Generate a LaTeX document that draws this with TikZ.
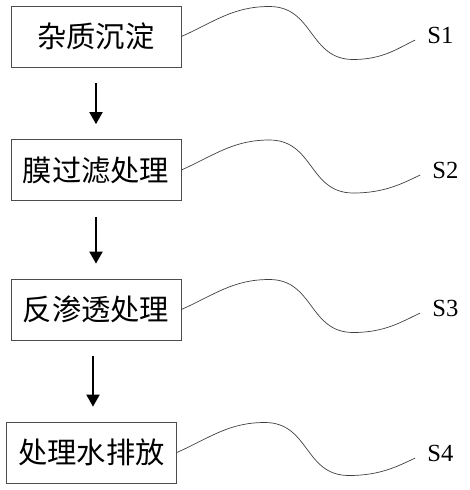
\documentclass[tikz,border=0pt]{standalone}
\usepackage{fontspec}
\setmainfont{Liberation Serif}
\newfontfamily\cjk{Noto Sans CJK SC}
\usetikzlibrary{arrows.meta,calc}

\begin{document}
\begin{tikzpicture}[x=0.03cm, y=-0.03cm,
    stage/.style={draw=black!70, line width=0.6pt, minimum width=5.1cm, minimum height=1.83cm, inner sep=0pt, font=\cjk\fontsize{25}{29}\selectfont},
    tag/.style={anchor=west, inner sep=1pt, font=\fontsize{21}{24}\selectfont},
    wave/.style={draw=black!75, line width=0.6pt, shorten >=0.36cm},
    arrow/.style={-{Triangle[length=3.6mm, width=3.9mm]}, line width=1.6pt, shorten <=0.48cm, shorten >=0.45cm}
]
\useasboundingbox (0,0) rectangle (470,490);

% process steps
\node[stage] (b1) at (96, 36.5) {杂质沉淀};
\node[stage] (b2) at (96, 170) {膜过滤处理};
\node[stage] (b3) at (96, 309.5) {反渗透处理};
\node[stage] (b4) at (91.5, 452.5) {处理水排放};

% step labels
\node[tag] (s1) at (426, 35) {S1};
\node[tag] (s2) at (431, 170) {S2};
\node[tag] (s3) at (431, 308) {S3};
\node[tag] (s4) at (426, 453) {S4};

% flow
\coordinate (a3) at ($(b3.south)+(-3,0)$);
\draw[arrow] (b1.south) -- (b2.north);
\draw[arrow] (b2.south) -- (b3.north);
\draw[arrow] (a3) -- (a3 |- b4.north);

% leader lines
\foreach \i in {1,...,4}
  \draw[wave] (b\i.east) to[out=24, in=180] ($(b\i.east)+(88,-30)$)
    to[out=0, in=180, looseness=1.15] ($(b\i.east)+(172,23)$)
    to[out=0, in=205] (s\i.west);
\end{tikzpicture}
\end{document}
